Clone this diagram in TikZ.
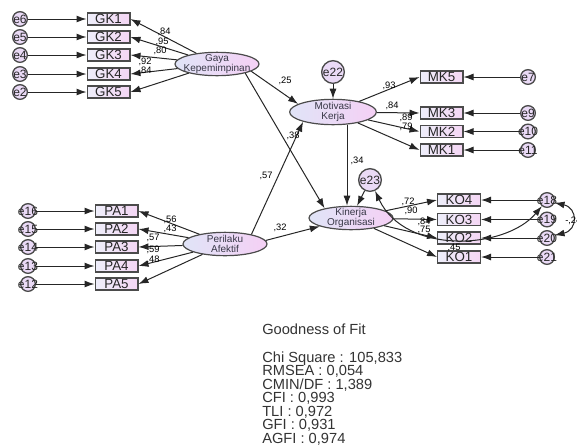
\documentclass[tikz,border=0pt]{standalone}
\usepackage{fontspec}
\setmainfont{Liberation Sans}
\usetikzlibrary{arrows.meta,shapes.geometric}
\definecolor{boxleft}{RGB}{238,238,250}
\definecolor{boxright}{RGB}{244,214,244}
\definecolor{ovalleft}{RGB}{224,228,247}
\definecolor{ovalright}{RGB}{245,208,245}
\definecolor{errfill}{RGB}{234,218,246}
\definecolor{edge}{RGB}{75,75,75}
\definecolor{ink}{RGB}{55,55,70}

\begin{document}
\begin{tikzpicture}[x=0.75pt, y=-0.75pt, >={Latex[length=7.5pt,width=5.2pt]},
  every node/.style={font=\fontsize{7}{8}\selectfont},
  obs/.style={rectangle, draw=edge, line width=1pt, left color=boxleft, right color=boxright,
    minimum width=32pt, minimum height=9pt, inner sep=0pt, text=black!85, font=\fontsize{10}{10}\selectfont},
  lat/.style={ellipse, draw=edge, line width=0.9pt, left color=ovalleft, right color=ovalright,
    minimum width=63pt, minimum height=17.5pt, inner sep=0pt,
    label={[align=center, text=ink, font=\fontsize{7.5}{8}\selectfont]center:{#1}}},
  err/.style={circle, draw=edge, line width=1pt, fill=errfill, minimum size=11pt, inner sep=0pt,
    label={[text=black!85, font=\fontsize{9}{9}\selectfont]center:#1}},
  lbl/.style={inner sep=0pt, font=\fontsize{7}{7}\selectfont},
  gof/.style={inner sep=0pt, anchor=base west, text=black!80, font=\fontsize{11}{11}\selectfont},
  link/.style={->, line width=0.75pt, black!85}]
\useasboundingbox (0,0) rectangle (577,447);

% latent variables
\node[lat={Gaya\\Kepemimpinan}] (gaya) at (217,64) {};
\node[lat={Motivasi\\Kerja}, minimum width=65pt, minimum height=19pt] (motiv) at (333,112) {};
\node[lat={Kinerja\\Organisasi}] (kinerja) at (351,218) {};
\node[lat={Perilaku\\Afektif}] (perilaku) at (225,244) {};
\node[err=e22, minimum size=17pt] (e22) at (333,72) {};
\node[err=e23, minimum size=17pt] (e23) at (370,180) {};

% Gaya Kepemimpinan
\foreach \i/\e/\y/\v/\lx/\ly in {1/6/19/84/164/32, 2/5/37/95/162/42, 3/4/55/80/160/51,
    4/3/74/92/145/62, 5/2/92/84/145/71} {
  \node[obs] (gk\i) at (108.5,\y) {GK\i};
  \node[err=e\e] (e\e) at (20,\y) {};
  \draw[link] (e\e) -- (gk\i);
  \draw[link] (gaya) -- (gk\i.east);
  \node[lbl] (lgk\i) at (\lx,\ly) {,\v};
}

% Motivasi Kerja
\foreach \i/\e/\y/\v/\lx/\ly in {5/7/77/93/389/86, 3/9/113/84/392/106,
    2/10/131.5/89/406/118, 1/11/150/79/406/127} {
  \node[obs] (mk\i) at (441.5,\y) {MK\i};
  \node[err=e\e] (e\e) at (528,\y) {};
  \draw[link] (e\e) -- (mk\i);
  \draw[link] (motiv) -- (mk\i.west);
  \node[lbl] (lmk\i) at (\lx,\ly) {,\v};
}

% Perilaku Afektif
\foreach \i/\e/\y/\v/\lx/\ly in {1/16/211/56/170/220, 2/15/229/43/170/229, 3/14/247/57/153/238,
    4/13/266/59/153/250, 5/12/284/48/153/260} {
  \node[obs] (pa\i) at (116.5,\y) {PA\i};
  \node[err=e\e] (e\e) at (28,\y) {};
  \draw[link] (e\e) -- (pa\i);
  \draw[link] (perilaku) -- (pa\i.east);
  \node[lbl] (lpa\i) at (\lx,\ly) {,\v};
}

% Kinerja Organisasi
\foreach \i/\e/\y/\v/\lx/\ly in {4/18/200/72/408/202, 3/19/219.5/90/411/211,
    2/20/238/84/424/222, 1/21/257/75/424/230} {
  \node[obs] (ko\i) at (459,\y) {KO\i};
  \node[err=e\e] (e\e) at (547,\y) {};
  \draw[link] (e\e) -- (ko\i);
  \draw[link] (kinerja) -- (ko\i.west);
  \node[lbl] (lko\i) at (\lx,\ly) {,\v};
}

% structural paths
\draw[link] (gaya.-12) -- (motiv.167);
\draw[link] (gaya.-18) -- (kinerja.160);
\draw[link] (perilaku.20) -- (motiv.-162);
\draw[link] (perilaku.5) -- (kinerja.195);
\draw[link] ([xshift=10.5pt]motiv.south) -- ([xshift=10.5pt]motiv.south |- kinerja.north);
\draw[link] (e22) -- (motiv);
\draw[link] (e23) -- (kinerja);
\draw[link, <->] (e23) .. controls (405,255) and (505,250) .. (e18);
\draw[link, <->] (e18.-20) .. controls (578,208) and (578,230) .. (e20.20);

\node[lbl] (lga) at (285,81) {,25};
\node[lbl] (lgk) at (293,136) {,38};
\node[lbl] (lpm) at (266,176) {,57};
\node[lbl] (lmk) at (357,161) {,34};
\node[lbl] (lpk) at (280,228) {,32};
\node[lbl] (lcov) at (454,248) {,45};
\node[lbl, anchor=west] (lcor) at (565,221) {-,24};

% fit indices
\node[gof] (gof) at (262,334) {Goodness of Fit};
\foreach \t/\y [count=\k] in {{Chi Square : 105,833}/362, {RMSEA : 0,054}/375.5,
    {CMIN/DF : 1,389}/389, {CFI : 0,993}/402.5, {TLI : 0,972}/416,
    {GFI : 0,931}/429.5, {AGFI : 0,974}/443}
  \node[gof] (fit\k) at (262,\y) {\t};
\end{tikzpicture}
\end{document}
